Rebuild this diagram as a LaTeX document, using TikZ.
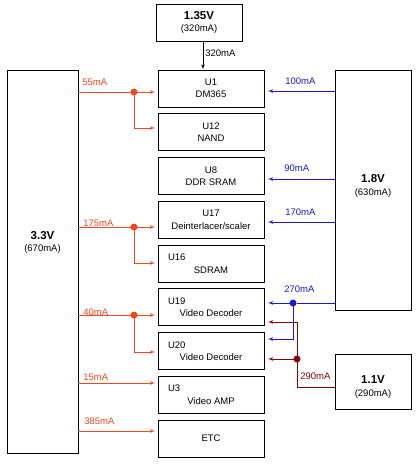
\documentclass[tikz,border=0pt]{standalone}
\usepackage{fontspec}
\setmainfont{Liberation Sans}
\usepackage{tikz}
\usetikzlibrary{arrows,positioning}
\definecolor{rail33}{RGB}{240,70,30}
\definecolor{rail18}{RGB}{25,25,215}
\definecolor{rail11}{RGB}{140,0,0}
\tikzstyle{block} = [draw, rectangle, line width=0.8pt, minimum height=37pt, minimum width=106pt, align=center, inner sep=1pt]
\tikzstyle{supply} = [draw, rectangle, line width=0.8pt]
\tikzstyle{volt} = [align=center, inner sep=0pt]
\tikzstyle{amp} = [anchor=west, inner sep=0pt]
\tikzstyle{tap} = [circle, fill, inner sep=0pt, minimum size=7pt]
\newcommand{\src}[2]{{\fontsize{11.5}{12}\selectfont\bfseries #1}\\#2}
\newcommand{\dev}[2]{\makebox[86pt][l]{#1}\\#2}

\begin{document}
\begin{tikzpicture}[x=1pt, y=-1pt, >=latex', line width=0.7pt,
    font=\fontsize{9.5}{12.5}\selectfont, node distance=5.95pt]
    \useasboundingbox (0,0) rectangle (417,466);
    % supplies
    \node [supply, minimum width=86pt, minimum height=37pt, align=center] (v135) at (199,22.5) {\src{1.35V}{(320mA)}};
    \node [supply, minimum width=71pt, minimum height=383pt] (v33) at (42.5,261.5) {};
    \node [volt] (t33) at (42.5,242.5) {\src{3.3V}{(670mA)}};
    \node [supply, minimum width=76pt, minimum height=240pt] (v18) at (373,190) {};
    \node [volt] (t18) at (373,186) {\src{1.8V}{(630mA)}};
    \node [supply, minimum width=76pt, minimum height=55pt] (v11) at (373,381.5) {};
    \node [volt] (t11) at (373,387) {\src{1.1V}{(290mA)}};
    % devices
    \node [block] (u1) at (211,88.5) {U1\\DM365};
    \node [block, below=of u1] (u12) {U12\\NAND};
    \node [block, below=of u12] (u8) {U8\\DDR SRAM};
    \node [block, below=of u8] (u17) {U17\\Deinterlacer/scaler};
    \node [block, below=of u17] (u16) {\dev{U16}{SDRAM}};
    \node [block, below=of u16] (u19) {\dev{U19}{Video Decoder}};
    \node [block, below=of u19] (u20) {\dev{U20}{Video Decoder}};
    \node [block, below=of u20] (u3) {\dev{U3}{Video AMP}};
    \node [block, below=of u3] (etc) {ETC};
    % 1.35V
    \draw [->] ([xshift=4pt]v135.south) -- ([xshift=4pt]v135.south |- u1.north)
        node [pos=0.42, right, inner sep=2pt] {320mA};
    % 3.3V
    \coordinate (j1) at (134,92);
    \coordinate (j2) at (134,227);
    \coordinate (j3) at (134,315);
    \begin{scope}[rail33, shorten >=2.5pt]
    \draw (v33.east |- j1) -- (j1);
    \draw [->] (j1) -- (u1.west |- j1);
    \draw [->] (j1) |- (u12.west |- 0,128);
    \draw (v33.east |- j2) -- (j2);
    \draw [->] (j2) -- (u17.west |- j2);
    \draw [->] (j2) |- (u16.west |- 0,263);
    \draw (v33.east |- j3) -- (j3);
    \draw [->] (j3) -- (u19.west |- j3);
    \draw [->] (j3) |- (u20.west |- 0,352);
    \draw [->] (v33.east |- 0,383) -- (u3.west |- 0,383);
    \draw [->] (v33.east |- 0,431) -- (etc.west |- 0,431);
    \end{scope}
    \node [tap, rail33] (d1) at (j1) {};
    \node [tap, rail33] (d2) at (j2) {};
    \node [tap, rail33] (d3) at (j3) {};
    \node [amp, text=rail33] (l55) at (82,82) {55mA};
    \node [amp, text=rail33] (l175) at (83,223) {175mA};
    \node [amp, text=rail33] (l40) at (83,312) {40mA};
    \node [amp, text=rail33] (l15) at (83,377) {15mA};
    \node [amp, text=rail33] (l385) at (84,421) {385mA};
    % 1.8V
    \coordinate (k1) at (293,303);
    \begin{scope}[rail18, shorten >=3.5pt]
    \draw [->] (v18.west |- 0,91) -- (u1.east |- 0,91);
    \draw [->] (v18.west |- 0,179) -- (u8.east |- 0,179);
    \draw [->] (v18.west |- 0,222) -- (u17.east |- 0,222);
    \draw (v18.west |- k1) -- (k1);
    \draw [->] (k1) -- (u19.east |- k1);
    \draw [->] (k1) |- (u20.east |- 0,339);
    \end{scope}
    \node [tap, rail18] (d4) at (k1) {};
    \node [amp, text=rail18] (l100) at (285,81) {100mA};
    \node [amp, text=rail18] (l90) at (284,168) {90mA};
    \node [amp, text=rail18] (l170) at (285,212) {170mA};
    \node [amp, text=rail18] (l270) at (284,289) {270mA};
    % 1.1V
    \coordinate (k2) at (297,359);
    \begin{scope}[rail11, shorten >=3.5pt]
    \draw [->] (v11.west |- 0,387) -| (297,322) -- (u19.east |- 0,322);
    \draw [->] (k2) -- (u20.east |- k2);
    \end{scope}
    \node [tap, rail11] (d5) at (k2) {};
    \node [amp, text=rail11] (l290) at (300,376) {290mA};
\end{tikzpicture}
\end{document}
